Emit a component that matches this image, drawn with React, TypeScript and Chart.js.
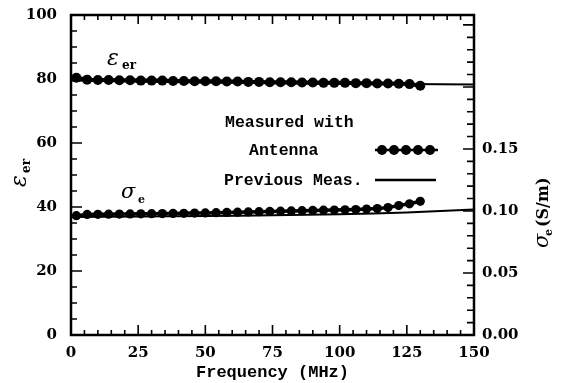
import { useEffect, useRef } from 'react';
import { Chart, registerables } from 'chart.js';

Chart.register(...registerables);

// ---- data ----
const measuredFreq = [2, 6, 10, 14, 18, 22, 26, 30, 34, 38, 42, 46, 50, 54, 58, 62, 66, 70, 74, 78, 82, 86, 90, 94, 98, 102, 106, 110, 114, 118, 122, 126, 130];
const measuredEps = [80.4, 79.8, 79.7, 79.7, 79.6, 79.6, 79.5, 79.5, 79.5, 79.4, 79.4, 79.3, 79.3, 79.3, 79.2, 79.2, 79.1, 79.1, 79.0, 79.0, 79.0, 78.9, 78.9, 78.8, 78.8, 78.8, 78.7, 78.7, 78.6, 78.6, 78.5, 78.4, 77.9];
const measuredSigma = [0.0962, 0.0972, 0.0973, 0.0974, 0.0975, 0.0976, 0.0977, 0.0978, 0.0979, 0.0980, 0.0981, 0.0983, 0.0984, 0.0986, 0.0988, 0.0990, 0.0992, 0.0994, 0.0996, 0.0998, 0.1000, 0.1002, 0.1004, 0.1006, 0.1008, 0.1010, 0.1012, 0.1015, 0.1019, 0.1027, 0.1044, 0.1058, 0.1078];
const previousFreq = [0, 25, 50, 75, 100, 125, 150];
const previousEps = [79.5, 79.2, 78.9, 78.7, 78.5, 78.4, 78.3];
const previousSigma = [0.0952, 0.0955, 0.0959, 0.0965, 0.0974, 0.0988, 0.1012];

const xTickLabels = [0, 25, 50, 75, 100, 125, 150];
const leftTickLabels = [0, 20, 40, 60, 80, 100];
const rightTickLabels = [0, 0.05, 0.1, 0.15];

const tickFont = { family: 'DejaVu Serif', size: 15, weight: 'bold' as const };

function near(list: number[], v: number) {
  return list.some((r) => Math.abs(r - v) < 1e-9);
}

const decorPlugin = {
  id: 'decor',
  afterDatasetsDraw(chart: any) {
    const { ctx, chartArea: a, scales } = chart;
    const x = scales.x;
    const y = scales.y;
    const y2 = scales.y2;
    ctx.save();
    ctx.strokeStyle = '#000';
    ctx.fillStyle = '#000';
    ctx.lineWidth = 1.6;
    ctx.beginPath();
    x.ticks.forEach((t: any) => {
      const px = x.getPixelForValue(t.value);
      const major = near(xTickLabels, t.value);
      ctx.moveTo(px, a.bottom);
      ctx.lineTo(px, a.bottom - (major ? 10 : 5));
      ctx.moveTo(px, a.top);
      ctx.lineTo(px, a.top + (major ? 9 : 5));
    });
    y.ticks.forEach((t: any) => {
      const py = y.getPixelForValue(t.value);
      const major = near(leftTickLabels, t.value);
      ctx.moveTo(a.left, py);
      ctx.lineTo(a.left + (major ? 11 : 6), py);
    });
    y2.ticks.forEach((t: any) => {
      const py = y2.getPixelForValue(t.value);
      const major = Math.abs(Math.round(t.value * 20) - t.value * 20) < 1e-6;
      ctx.moveTo(a.right, py);
      ctx.lineTo(a.right - (major ? 11 : 7), py);
    });
    ctx.stroke();
    ctx.lineWidth = 2.5;
    ctx.strokeRect(a.left, a.top, a.right - a.left, a.bottom - a.top);

    // annotations inside plot
    ctx.textBaseline = 'alphabetic';
    ctx.textAlign = 'left';
    ctx.font = 'italic 22px "DejaVu Serif"';
    ctx.fillText('ε', 107, 65);
    ctx.font = 'bold 12px "DejaVu Serif"';
    ctx.fillText('er', 122, 69);
    ctx.font = 'italic 21px "DejaVu Serif"';
    ctx.fillText('σ', 121, 198);
    ctx.font = 'bold 11px "DejaVu Serif"';
    ctx.fillText('e', 138, 203);

    // legend
    ctx.font = 'bold 16.5px "Liberation Mono"';
    ctx.fillText('Measured with', 225, 127);
    ctx.fillText('Antenna', 249, 155);
    ctx.fillText('Previous Meas.', 224, 185);
    ctx.lineWidth = 2.5;
    ctx.beginPath();
    ctx.moveTo(375, 150);
    ctx.lineTo(438, 150);
    ctx.moveTo(375, 180);
    ctx.lineTo(436, 180);
    ctx.stroke();
    [382, 394, 406, 418, 430].forEach((cx) => {
      ctx.beginPath();
      ctx.arc(cx, 150, 5, 0, Math.PI * 2);
      ctx.fill();
    });

    // x axis title
    ctx.textAlign = 'center';
    ctx.font = 'bold 17px "Liberation Mono"';
    ctx.fillText('Frequency (MHz)', (a.left + a.right) / 2, 377);
    ctx.textAlign = 'left';

    // rotated axis titles
    ctx.save();
    ctx.translate(26, 187);
    ctx.rotate(-Math.PI / 2);
    ctx.font = 'italic 22px "DejaVu Serif"';
    ctx.fillText('ε', 0, 0);
    ctx.font = 'bold 12px "DejaVu Serif"';
    ctx.fillText('er', 14, 4);
    ctx.restore();

    ctx.save();
    ctx.translate(548, 248);
    ctx.rotate(-Math.PI / 2);
    ctx.font = 'italic 21px "DejaVu Serif"';
    ctx.fillText('σ', 0, 0);
    ctx.font = 'bold 11px "DejaVu Serif"';
    ctx.fillText('e', 12, 4);
    ctx.font = 'bold 16px "DejaVu Serif"';
    ctx.fillText('(S/m)', 21, 0);
    ctx.restore();

    ctx.restore();
  },
};

export default function App() {
  const ref = useRef<HTMLCanvasElement>(null);
  useEffect(() => {
    if (!ref.current) return;
    const chart = new Chart(ref.current, {
      type: 'line',
      data: {
        datasets: [
          {
            label: 'Measured ε',
            data: measuredFreq.map((f, i) => ({ x: f, y: measuredEps[i] })),
            yAxisID: 'y',
            borderColor: '#000',
            backgroundColor: '#000',
            borderWidth: 4,
            pointRadius: 5,
            pointBorderWidth: 0,
            pointBackgroundColor: '#000',
          },
          {
            label: 'Measured σ',
            data: measuredFreq.map((f, i) => ({ x: f, y: measuredSigma[i] })),
            yAxisID: 'y2',
            borderColor: '#000',
            backgroundColor: '#000',
            borderWidth: 3.5,
            pointRadius: 4.6,
            pointBorderWidth: 0,
            pointBackgroundColor: '#000',
          },
          {
            label: 'Previous ε',
            data: previousFreq.map((f, i) => ({ x: f, y: previousEps[i] })),
            yAxisID: 'y',
            borderColor: '#000',
            borderWidth: 2,
            pointRadius: 0,
            tension: 0.3,
          },
          {
            label: 'Previous σ',
            data: previousFreq.map((f, i) => ({ x: f, y: previousSigma[i] })),
            yAxisID: 'y2',
            borderColor: '#000',
            borderWidth: 2,
            pointRadius: 0,
            tension: 0.3,
          },
        ],
      },
      options: {
        responsive: false,
        animation: false,
        layout: { padding: { top: 13, bottom: 0, left: 0, right: 0 } },
        plugins: { legend: { display: false }, tooltip: { enabled: false } },
        scales: {
          x: {
            type: 'linear',
            position: 'bottom',
            min: 0,
            max: 150,
            afterFit: (s: any) => { s.height = 48; },
            grid: { display: false },
            border: { display: false },
            ticks: {
              stepSize: 5,
              autoSkip: false,
              maxRotation: 0,
              padding: 1,
              color: '#000',
              font: tickFont,
              callback: (v: any) => (near(xTickLabels, Number(v)) ? String(v) : ''),
            },
          },
          y: {
            type: 'linear',
            position: 'left',
            min: 0,
            max: 100,
            afterFit: (s: any) => { s.width = 71; },
            grid: { display: false },
            border: { display: false },
            ticks: {
              stepSize: 5,
              autoSkip: false,
              padding: 6,
              color: '#000',
              font: tickFont,
              callback: (v: any) => (near(leftTickLabels, Number(v)) ? String(v) : ''),
            },
          },
          y2: {
            type: 'linear',
            position: 'right',
            min: 0,
            max: 0.258,
            afterFit: (s: any) => { s.width = 87; },
            afterBuildTicks: (s: any) => {
              const t = [];
              for (let i = 0; i <= 25; i++) t.push({ value: i / 100 });
              s.ticks = t;
            },
            grid: { display: false },
            border: { display: false },
            ticks: {
              autoSkip: false,
              padding: 0,
              color: '#000',
              font: tickFont,
              callback: (v: any) => (near(rightTickLabels, Number(v)) ? Number(v).toFixed(2) : ''),
            },
          },
        },
      },
      plugins: [decorPlugin],
    });
    return () => chart.destroy();
  }, []);
  return (
    <div style={{ position: 'absolute', left: 0, top: 0, width: 561, height: 383, background: '#fff' }}>
      <canvas ref={ref} width={561} height={383} style={{ display: 'block' }} />
    </div>
  );
}
